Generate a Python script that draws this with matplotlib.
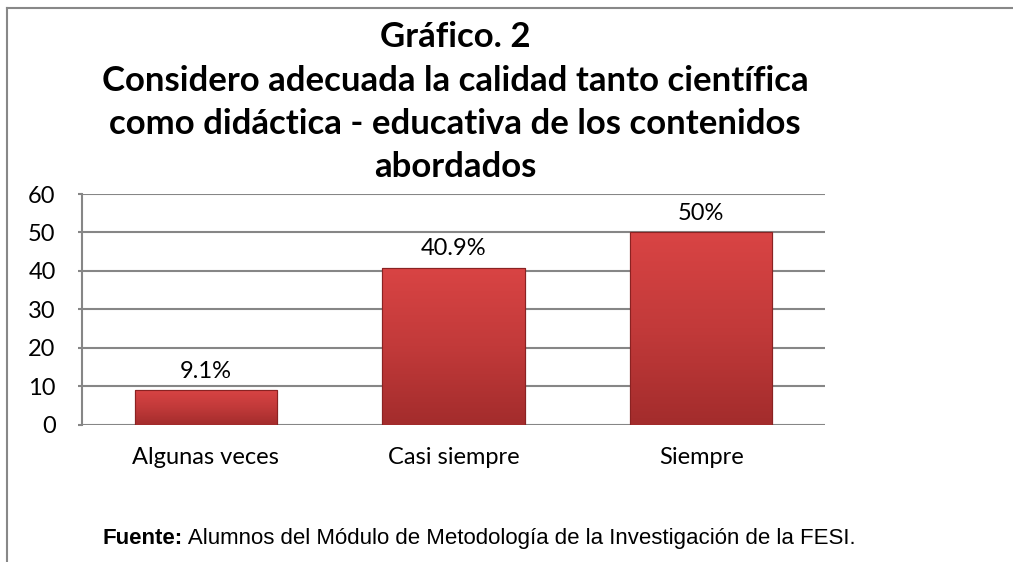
import numpy as np
import matplotlib.pyplot as plt
from matplotlib.lines import Line2D
from matplotlib.colors import LinearSegmentedColormap

categories = ["Algunas veces", "Casi siempre", "Siempre"]
values = [9.1, 40.9, 50]
value_labels = ["9.1%", "40.9%", "50%"]
y_ticks = [0, 10, 20, 30, 40, 50, 60]

title_lines = "Gráfico. 2\nConsidero adecuada la calidad tanto científica\ncomo didáctica - educativa de los contenidos\nabordados"
source_bold = "Fuente:"
source_text = " Alumnos del Módulo de Metodología de la Investigación de la FESI."

fig = plt.figure(figsize=(10.13, 5.62), dpi=100)
ax = fig.add_axes([0.081, 0.2438, 0.7334, 0.411])

x = np.arange(len(categories))
bars = ax.bar(x, values, width=0.574, color="#c83a3a", edgecolor="#8a2222", linewidth=0.8, zorder=3)

# vertical red gradient on each bar
grad = np.linspace(0, 1, 256).reshape(-1, 1)
cmap = LinearSegmentedColormap.from_list("redgrad", ["#a32c2c", "#c23a3a", "#d94444"])
for b in bars:
    x0, y0 = b.get_x(), b.get_y()
    w, h = b.get_width(), b.get_height()
    im = ax.imshow(grad, cmap=cmap, extent=[x0, x0 + w, y0, y0 + h], origin="lower",
                   aspect="auto", zorder=3.5)
    im.set_clip_path(b)
    ax.add_patch(plt.Rectangle((x0, y0), w, h, fill=False, edgecolor="#8a2222", linewidth=0.8, zorder=4))

for xi, v, lab in zip(x, values, value_labels):
    ax.annotate(lab, (xi, v), xytext=(0, 6), textcoords="offset points",
                ha="center", va="bottom", fontsize=17, family="Lato")

ax.set_xlim(-0.5, 2.5)
ax.set_ylim(0, 60)
ax.set_yticks(y_ticks)
ax.set_yticklabels([str(t) for t in y_ticks], fontsize=17, family="Lato")
ax.set_xticks(x)
ax.set_xticklabels(categories, fontsize=17, family="Lato")
ax.tick_params(axis="y", length=3, width=1.5, color="#868686", pad=16)
ax.tick_params(axis="x", length=0, pad=16)
ax.yaxis.grid(True, color="#868686", linewidth=1.5, zorder=0)
for s in ax.spines.values():
    s.set_visible(False)
ax.spines["left"].set_visible(True)
ax.spines["left"].set_color("#868686")
ax.spines["left"].set_linewidth(1.5)

fig.text(0.449, 0.962, title_lines, ha="center", va="top", fontsize=25, fontweight="bold",
         family="Lato", linespacing=1.43)

t1 = fig.text(0.101, 0.042, source_bold, ha="left", va="center", fontsize=16,
              family="Liberation Sans", fontweight="bold")
fig.canvas.draw()
bb = t1.get_window_extent()
fig.text(bb.x1 / fig.bbox.width, 0.042, source_text,
         ha="left", va="center", fontsize=16, family="Liberation Sans")

fig.add_artist(Line2D([0.007, 0.007], [0, 0.986], color="#888888", linewidth=1.5))
fig.add_artist(Line2D([0.007, 1.0], [0.986, 0.986], color="#888888", linewidth=1.5))

fig.savefig("out.png", dpi=100)
